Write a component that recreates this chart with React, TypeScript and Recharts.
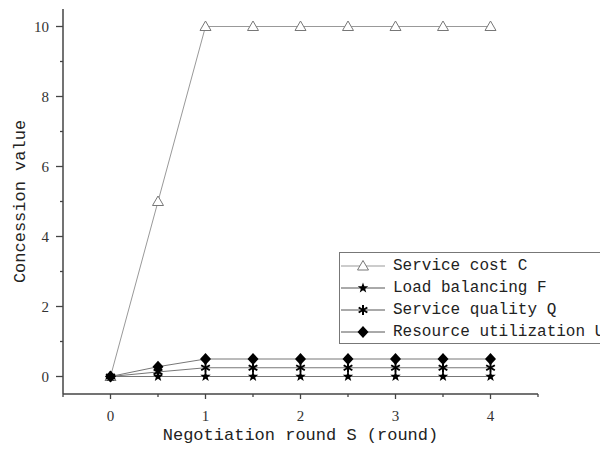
import { LineChart, Line, XAxis, YAxis, Legend, Label } from "recharts";

const rounds = [0, 0.5, 1, 1.5, 2, 2.5, 3, 3.5, 4];
const serviceCost = [0, 5, 10, 10, 10, 10, 10, 10, 10];
const loadBalancing = [0, 0, 0, 0, 0, 0, 0, 0, 0];
const serviceQuality = [0, 0.13, 0.25, 0.25, 0.25, 0.25, 0.25, 0.25, 0.25];
const resourceUtil = [0, 0.28, 0.5, 0.5, 0.5, 0.5, 0.5, 0.5, 0.5];

const seriesKeys = ["C", "F", "Q", "U"];
const seriesNames = ["Service cost C", "Load balancing F", "Service quality Q", "Resource utilization U"];

const xTicks = [-0.5, 0, 0.5, 1, 1.5, 2, 2.5, 3, 3.5, 4, 4.5];
const yTicks = [0, 1, 2, 3, 4, 5, 6, 7, 8, 9, 10];

const data = rounds.map((r, i) => ({
  round: r,
  C: serviceCost[i],
  F: loadBalancing[i],
  Q: serviceQuality[i],
  U: resourceUtil[i],
}));

const AXIS = "#444";
const MONO = "'Liberation Mono', 'DejaVu Sans Mono', monospace";
const SERIF = "'Liberation Serif', 'DejaVu Serif', serif";

function Marker({ kind, cx, cy }: { kind: string; cx: number; cy: number }) {
  if (kind === "C") {
    return (
      <polygon
        points={`${cx},${cy - 5.5} ${cx - 5.5},${cy + 4} ${cx + 5.5},${cy + 4}`}
        fill="#fff"
        stroke="#777"
        strokeWidth={1}
      />
    );
  }
  if (kind === "F") {
    const pts: string[] = [];
    for (let k = 0; k < 10; k++) {
      const r = k % 2 === 0 ? 5.5 : 2.3;
      const a = (Math.PI / 5) * k - Math.PI / 2;
      pts.push(`${cx + r * Math.cos(a)},${cy + r * Math.sin(a)}`);
    }
    return <polygon points={pts.join(" ")} fill="#000" />;
  }
  if (kind === "Q") {
    const arms = [90, 30, 150].map((d) => (d * Math.PI) / 180);
    return (
      <g stroke="#000" strokeWidth={2}>
        {arms.map((a, k) => (
          <line
            key={k}
            x1={cx - 5 * Math.cos(a)}
            y1={cy - 5 * Math.sin(a)}
            x2={cx + 5 * Math.cos(a)}
            y2={cy + 5 * Math.sin(a)}
          />
        ))}
      </g>
    );
  }
  return (
    <polygon
      points={`${cx},${cy - 6} ${cx + 5.5},${cy} ${cx},${cy + 6} ${cx - 5.5},${cy}`}
      fill="#000"
    />
  );
}

const dotFor = (kind: string) => (props: any) => (
  <Marker key={`${kind}-${props.index}`} kind={kind} cx={props.cx} cy={props.cy} />
);

function XTick({ x, y, payload }: any) {
  const v = payload.value;
  const major = Number.isInteger(v);
  return (
    <g>
      <line x1={x} y1={y} x2={x} y2={y + (major ? 5 : 3)} stroke={AXIS} strokeWidth={1.3} />
      {major && (
        <text x={x} y={y + 27} textAnchor="middle" fontFamily={SERIF} fontSize={15} fill="#333">
          {v}
        </text>
      )}
    </g>
  );
}

function YTick({ x, y, payload }: any) {
  const v = payload.value;
  const major = v % 2 === 0;
  return (
    <g>
      <line x1={x - (major ? 7 : 3)} y1={y} x2={x} y2={y} stroke={AXIS} strokeWidth={1.3} />
      {major && (
        <text x={x - 14} y={y + 5} textAnchor="end" fontFamily={SERIF} fontSize={15} fill="#333">
          {v}
        </text>
      )}
    </g>
  );
}

function LegendBox() {
  return (
    <div style={{ width: 320, border: "1px solid #777", paddingTop: 2, background: "#fff", boxSizing: "border-box" }}>
      {seriesKeys.map((k, i) => (
        <div key={k} style={{ display: "flex", alignItems: "center", height: 22 }}>
          <svg width={53} height={22} style={{ flex: "none" }}>
            <line x1={1} y1={11} x2={45} y2={11} stroke={k === "C" ? "#999" : "#555"} strokeWidth={1} />
            <Marker kind={k} cx={23} cy={11} />
          </svg>
          <span style={{ fontFamily: MONO, fontSize: 16, color: "#222", whiteSpace: "nowrap" }}>{seriesNames[i]}</span>
        </div>
      ))}
    </div>
  );
}

export default function App() {
  return (
    <LineChart width={600} height={440} data={data} margin={{ top: 1, right: 70, bottom: 0, left: 0 }}>
      <XAxis
        dataKey="round"
        type="number"
        domain={[-0.5, 4.5]}
        ticks={xTicks}
        interval={0}
        height={54}
        tickSize={0}
        tickMargin={0}
        tickLine={false}
        tick={<XTick />}
        axisLine={{ stroke: AXIS, strokeWidth: 1.5 }}
        allowDataOverflow
      >
        <Label
          content={({ viewBox }: any) => (
            <text
              x={viewBox.x + viewBox.width / 2}
              y={viewBox.y + 46}
              textAnchor="middle"
              fontFamily={MONO}
              fontSize={17}
              fill="#222"
            >
              Negotiation round S (round)
            </text>
          )}
        />
      </XAxis>
      <YAxis
        type="number"
        domain={[-0.5, 10.5]}
        ticks={yTicks}
        interval={0}
        width={55}
        tickSize={0}
        tickMargin={0}
        tickLine={false}
        tick={<YTick />}
        axisLine={{ stroke: AXIS, strokeWidth: 1.5 }}
        allowDataOverflow
      >
        <Label
          content={({ viewBox }: any) => {
            const cy = viewBox.y + viewBox.height / 2;
            return (
              <text
                x={12}
                y={cy}
                transform={`rotate(-90 12 ${cy})`}
                textAnchor="middle"
                dominantBaseline="central"
                fontFamily={MONO}
                fontSize={17}
                fill="#222"
              >
                Concession value
              </text>
            );
          }}
        />
      </YAxis>
      <Legend
        layout="vertical"
        align="center"
        verticalAlign="middle"
        content={<LegendBox />}
        wrapperStyle={{ left: 331, top: 244, width: 269, height: 92, overflow: "hidden" }}
      />
      <Line type="linear" dataKey="C" name={seriesNames[0]} stroke="#999" strokeWidth={1} dot={dotFor("C")} isAnimationActive={false} />
      <Line type="linear" dataKey="F" name={seriesNames[1]} stroke="#777" strokeWidth={1} dot={dotFor("F")} isAnimationActive={false} />
      <Line type="linear" dataKey="Q" name={seriesNames[2]} stroke="#777" strokeWidth={1} dot={dotFor("Q")} isAnimationActive={false} />
      <Line type="linear" dataKey="U" name={seriesNames[3]} stroke="#777" strokeWidth={1} dot={dotFor("U")} isAnimationActive={false} />
    </LineChart>
  );
}
